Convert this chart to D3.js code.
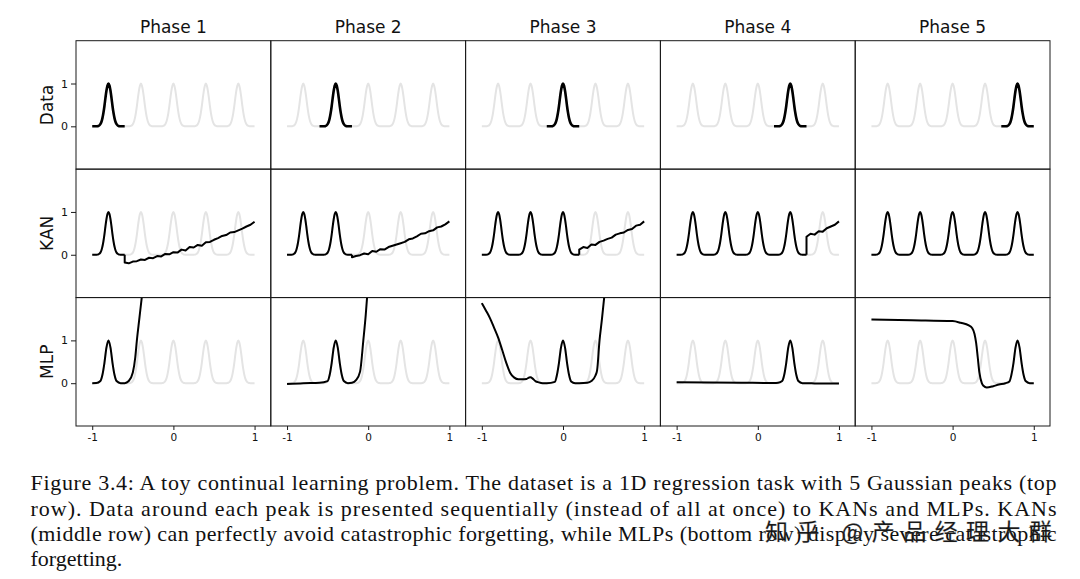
<!DOCTYPE html>
<html>
<head>
<meta charset="utf-8">
<script src="https://cdn.jsdelivr.net/npm/d3@7/dist/d3.min.js"></script>
<style>
  body { margin: 0; background: #fff; }
  svg text { font-family: "DejaVu Sans", sans-serif; fill: #111; }
  .caption { font-family: "Liberation Serif", "Times New Roman", serif; font-size: 22px; }
  .wm { font-family: "Noto Sans CJK SC", sans-serif; font-size: 23px; }
</style>
</head>
<body>
<svg id="chart" width="1080" height="579"></svg>
<script>
'use strict';

// ---- values ----
const phases = ['Phase 1', 'Phase 2', 'Phase 3', 'Phase 4', 'Phase 5'];
const rowNames = ['Data', 'KAN', 'MLP'];
const xTicks = [-1, 0, 1];
const yTicks = [0, 1];

// the five gaussian bumps of the target
const peakCenters = [-0.8, -0.4, 0, 0.4, 0.8];
const peakOffsets = [-0.2, -0.1625, -0.15, -0.1375, -0.125, -0.1125, -0.1, -0.0875, -0.075, -0.0625, -0.05, -0.0375, -0.025, -0.0125,
                     0, 0.0125, 0.025, 0.0375, 0.05, 0.0625, 0.075, 0.0875, 0.1, 0.1125, 0.125, 0.1375, 0.15, 0.1625, 0.2];
const peakShape   = [0, 0, 0.001, 0.003, 0.009, 0.022, 0.05, 0.10, 0.185, 0.31, 0.47, 0.66, 0.83, 0.95,
                     1, 0.95, 0.83, 0.66, 0.47, 0.31, 0.185, 0.10, 0.05, 0.022, 0.009, 0.003, 0.001, 0, 0];

// KAN: noisy drift to the right of the last learned peak (phases 1-4)
const kanTailX = [-0.6, -0.55, -0.5, -0.45, -0.4, -0.35, -0.3, -0.25, -0.2, -0.15, -0.1, -0.05, 0,
                  0.05, 0.1, 0.15, 0.2, 0.25, 0.3, 0.35, 0.4, 0.45, 0.5, 0.55, 0.6, 0.65, 0.7, 0.75, 0.8, 0.85, 0.9, 0.95, 1];
const kanTail1 = [-0.18, -0.20, -0.16, -0.15, -0.11, -0.12, -0.07, -0.08, -0.03, -0.04, 0.02, 0.01, 0.06, 0.05, 0.12, 0.10, 0.18,
                  0.17, 0.23, 0.21, 0.29, 0.30, 0.35, 0.39, 0.44, 0.46, 0.52, 0.53, 0.57, 0.61, 0.66, 0.70, 0.77];
const kanTail2 = [-0.06, -0.03, -0.01, 0.03, 0.01, 0.09, 0.07, 0.13, 0.12, 0.18, 0.21, 0.24, 0.27, 0.30, 0.36, 0.38, 0.43,
                  0.49, 0.50, 0.55, 0.57, 0.64, 0.66, 0.71, 0.78];
const kanTail3 = [0.12, 0.18, 0.16, 0.24, 0.23, 0.30, 0.33, 0.37, 0.40, 0.47, 0.50, 0.52, 0.58, 0.60, 0.68, 0.70, 0.78];
const kanTail4 = [0.42, 0.49, 0.47, 0.55, 0.54, 0.62, 0.66, 0.70, 0.78];
const kanTails = [kanTail1, kanTail2, kanTail3, kanTail4, []];

// MLP fits, one per phase
const mlpX1 = [-1, -0.95, -0.9, -0.875, -0.85, -0.825, -0.8, -0.775, -0.75, -0.725, -0.7, -0.65, -0.6, -0.55, -0.5, -0.47, -0.45, -0.42, -0.39, -0.37];
const mlpY1 = [0, 0.002, 0.05, 0.19, 0.47, 0.83, 1, 0.83, 0.47, 0.19, 0.05, 0, 0, 0.05, 0.25, 0.6, 1.0, 1.5, 2.0, 2.3];
const mlpX2 = [-1, -0.8, -0.6, -0.5, -0.475, -0.45, -0.425, -0.4, -0.375, -0.35, -0.325, -0.3, -0.25, -0.2, -0.15, -0.1, -0.06, -0.03, -0.01];
const mlpY2 = [-0.02, 0, 0.01, 0.05, 0.19, 0.47, 0.83, 1.0, 0.83, 0.47, 0.19, 0.05, 0, 0.01, 0.07, 0.27, 1.0, 1.6, 2.1];
const mlpX3 = [-1, -0.95, -0.9, -0.85, -0.8, -0.75, -0.7, -0.65, -0.6, -0.55, -0.5, -0.45, -0.42, -0.4, -0.37, -0.34, -0.3, -0.25, -0.2,
               -0.1, -0.075, -0.05, -0.025, 0, 0.025, 0.05, 0.075, 0.1, 0.15, 0.2, 0.3, 0.35, 0.4, 0.42, 0.45, 0.48, 0.51];
const mlpY3 = [1.87, 1.70, 1.52, 1.30, 1.07, 0.78, 0.48, 0.24, 0.13, 0.09, 0.09, 0.10, 0.13, 0.14, 0.10, 0.05, 0.02, 0, 0,
               0.03, 0.19, 0.47, 0.83, 1.0, 0.83, 0.47, 0.19, 0.04, 0, 0, 0.01, 0.05, 0.18, 0.3, 1.0, 1.5, 2.05];
const mlpX4 = [-1, -0.6, -0.2, 0.2, 0.25, 0.3, 0.325, 0.35, 0.375, 0.4, 0.425, 0.45, 0.475, 0.5, 0.55, 0.7, 1];
const mlpY4 = [0.02, 0.015, 0.01, 0.005, 0.01, 0.05, 0.19, 0.47, 0.83, 1.0, 0.83, 0.47, 0.19, 0.05, 0, -0.005, -0.01];
const mlpX5 = [-1, -0.5, 0, 0.1, 0.2, 0.24, 0.27, 0.29, 0.31, 0.33, 0.36, 0.38, 0.42, 0.5, 0.57, 0.65, 0.7,
               0.725, 0.75, 0.775, 0.8, 0.825, 0.85, 0.875, 0.9, 0.95, 1];
const mlpY5 = [1.49, 1.47, 1.45, 1.41, 1.35, 1.29, 1.15, 0.94, 0.6, 0.25, 0, -0.06, -0.1, -0.07, -0.03, 0, 0.04,
               0.2, 0.47, 0.83, 1.0, 0.83, 0.47, 0.19, 0.05, 0, 0];
const mlpX = [mlpX1, mlpX2, mlpX3, mlpX4, mlpX5];
const mlpY = [mlpY1, mlpY2, mlpY3, mlpY4, mlpY5];

const captionLines = [
  'Figure 3.4: A toy continual learning problem. The dataset is a 1D regression task with 5 Gaussian peaks (top',
  'row). Data around each peak is presented sequentially (instead of all at once) to KANs and MLPs. KANs',
  '(middle row) can perfectly avoid catastrophic forgetting, while MLPs (bottom row) display severe catastrophic',
  'forgetting.'
];
const watermark = '知乎 @产品经理大群';

// ---- layout ----
const gridLeft = 76, gridRight = 1050, gridTop = 40.7, gridBottom = 426;
const colW = (gridRight - gridLeft) / phases.length;
const rowH = (gridBottom - gridTop) / rowNames.length;

const x = d3.scaleLinear().domain([-1.2, 1.2]).range([0, colW]);
const y = d3.scaleLinear().domain([-1, 2]).range([rowH, 0]);

const line = d3.line().x(d => x(d[0])).y(d => y(d[1])).curve(d3.curveMonotoneX);
const lineRaw = d3.line().x(d => x(d[0])).y(d => y(d[1]));

// one bump placed on a center
function bump(c) {
  return peakOffsets.map((o, j) => [c + o, peakShape[j]]);
}
// bumps 0..n-1 joined into one curve
function bumps(n) {
  let pts = [];
  peakCenters.slice(0, n).forEach((c, i) => {
    const b = bump(c);
    pts = pts.concat(i === 0 ? b : b.slice(1));
  });
  return pts;
}
const allPeaks = bumps(peakCenters.length);

const svg = d3.select('#chart');
svg.append('rect').attr('width', 1080).attr('height', 579).attr('fill', '#fff');

const defs = svg.append('defs');
defs.append('clipPath').attr('id', 'panelClip')
  .append('rect').attr('width', colW).attr('height', rowH);

rowNames.forEach((rowName, r) => {
  phases.forEach((phase, c) => {
    const g = svg.append('g')
      .attr('transform', `translate(${gridLeft + c * colW},${gridTop + r * rowH})`);
    const plot = g.append('g').attr('clip-path', 'url(#panelClip)');

    // target in light grey
    plot.append('path')
      .attr('d', line(allPeaks))
      .attr('fill', 'none').attr('stroke', '#e4e4e4').attr('stroke-width', 2);

    if (r === 0) {
      plot.append('path')
        .attr('d', line(bump(peakCenters[c])))
        .attr('fill', 'none').attr('stroke', '#000').attr('stroke-width', 2.6);
    } else if (r === 1) {
      const learned = bumps(c + 1);
      plot.append('path')
        .attr('d', line(learned))
        .attr('fill', 'none').attr('stroke', '#000').attr('stroke-width', 2);
      const tail = kanTails[c];
      if (tail.length) {
        const tx = kanTailX.slice(kanTailX.length - tail.length);
        const pts = [[tx[0], 0]].concat(tail.map((v, i) => [tx[i], v]));
        plot.append('path')
          .attr('d', lineRaw(pts))
          .attr('fill', 'none').attr('stroke', '#000').attr('stroke-width', 2)
          .attr('stroke-linejoin', 'round');
      }
    } else {
      const pts = mlpX[c].map((v, i) => [v, mlpY[c][i]]);
      plot.append('path')
        .attr('d', line(pts))
        .attr('fill', 'none').attr('stroke', '#000').attr('stroke-width', 2);
    }

    g.append('rect')
      .attr('width', colW).attr('height', rowH)
      .attr('fill', 'none').attr('stroke', '#1a1a1a').attr('stroke-width', 1);

    if (c === 0) {
      const ax = g.append('g')
        .call(d3.axisLeft(y).tickValues(yTicks).tickSize(5).tickPadding(3).tickFormat(d => String(d)));
      ax.select('.domain').remove();
      ax.selectAll('text').attr('font-size', 11).attr('font-family', 'DejaVu Sans');
      ax.selectAll('line').attr('stroke', '#1a1a1a');
    }
    if (r === rowNames.length - 1) {
      const ax = g.append('g')
        .attr('transform', `translate(0,${rowH})`)
        .call(d3.axisBottom(x).tickValues(xTicks).tickSize(4).tickPadding(4).tickFormat(d => String(d)));
      ax.select('.domain').remove();
      ax.selectAll('text').attr('font-size', 10.5).attr('font-family', 'DejaVu Sans');
      ax.selectAll('line').attr('stroke', '#1a1a1a');
    }
    if (r === 0) {
      svg.append('text')
        .attr('x', gridLeft + c * colW + colW / 2)
        .attr('y', 33)
        .attr('text-anchor', 'middle')
        .attr('font-size', 17)
        .text(phase);
    }
  });

  svg.append('text')
    .attr('transform', `translate(52.5,${gridTop + r * rowH + rowH / 2}) rotate(-90)`)
    .attr('text-anchor', 'middle')
    .attr('font-size', 17)
    .text(rowName);
});

// caption
const capBase = [490, 515.5, 540.5, 565.5];
captionLines.forEach((t, i) => {
  const tx = svg.append('text')
    .attr('class', 'caption')
    .attr('x', 30.5)
    .attr('y', capBase[i])
    .text(t);
  if (i < captionLines.length - 1) {
    tx.attr('textLength', 1026).attr('lengthAdjust', 'spacing');
  }
});

// faint watermark over the caption
svg.append('text')
  .attr('class', 'wm')
  .attr('x', 765)
  .attr('y', 540)
  .attr('textLength', 287)
  .attr('lengthAdjust', 'spacing')
  .attr('fill', 'rgba(255,255,255,0.6)')
  .attr('stroke', 'rgba(120,120,120,0.4)')
  .attr('stroke-width', 0.7)
  .text(watermark);
</script>
</body>
</html>
